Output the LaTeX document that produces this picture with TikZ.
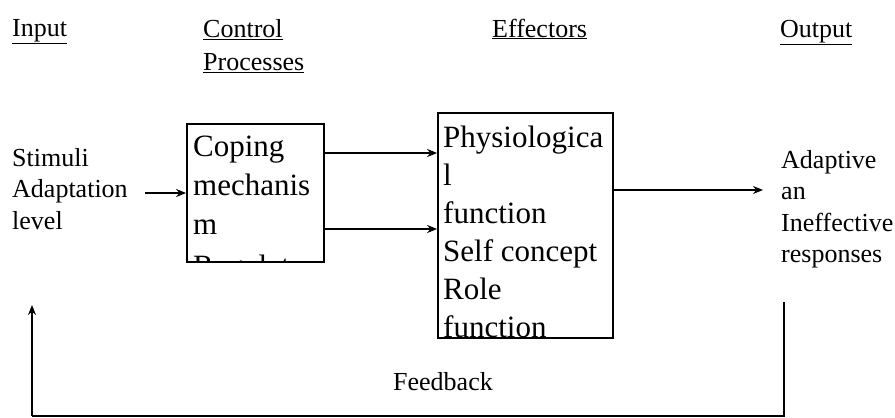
\documentclass[tikz,border=0pt]{standalone}
\usepackage{fontspec}
\setmainfont{Liberation Serif}
\usetikzlibrary{arrows.meta}
\begin{document}
\begin{tikzpicture}[x=1pt,y=-1pt,
  outer/.style={font=\fontsize{26}{31.5}\selectfont, inner sep=0pt, align=left},
  head/.style={font=\fontsize{26}{33}\selectfont, inner sep=0pt, align=left},
  boxtext/.style={font=\fontsize{31}{38}\selectfont, inner sep=0pt, align=left, anchor=north west},
  blk/.style={draw, line width=1.8pt, inner sep=0pt},
  arr/.style={line width=1.6pt, -{Stealth[length=10pt,width=8pt]}},
  fb/.style={line width=1.4pt}]
\useasboundingbox (0,0) rectangle (895,418);
% headers
\node[head, anchor=base west] (hin) at (12,36) {\underline{Input}};
\node[head, anchor=north west] (hctl) at (203,19.2) {\underline{Control}\\\underline{Processes}};
\node[head, anchor=base west] (heff) at (492,37) {\underline{Effectors}};
\node[head, anchor=base west] (hout) at (780,37) {\underline{Output}};
% side texts
\node[outer, anchor=north west] (stim) at (12,148) {Stimuli\\Adaptation\\level};
\node[outer, anchor=north west] (outp) at (781,150) {Adaptive\\an\\Ineffective\\responses};
\node[outer, anchor=base west] (fbt) at (393,390) {Feedback};
% boxes
\node[blk, minimum width=137pt, minimum height=138pt] (cop) at (255.5,193) {};
\node[blk, minimum width=175pt, minimum height=225pt] (phy) at (525.5,225.5) {};
\begin{scope}
  \clip ([shift={(0.9,-0.9)}]cop.south west) rectangle ([shift={(-0.9,0.9)}]cop.north east);
  \node[boxtext, font=\fontsize{31}{39}\selectfont] (coptxt) at (193,135.8) {Coping\\mechanis\\m\\[3pt]Regulator};
\end{scope}
\begin{scope}
  \clip (phy.south west) rectangle (phy.north east);
  \node[boxtext] (phytxt) at (443,125.8) {Physiologica\\l\\function\\Self concept\\Role\\function};
\end{scope}
% connectors
\coordinate (s1) at (145,193);
\draw[arr] (s1) -- (cop.west);
\coordinate (c1) at (0,153);
\coordinate (c2) at (0,229);
\draw[arr] (cop.east |- c1) -- (phy.west |- c1);
\draw[arr] (cop.east |- c2) -- (phy.west |- c2);
\coordinate (o1) at (763,190);
\draw[arr] (phy.east |- o1) -- (o1);
% feedback loop
\coordinate (fr) at (784,302);
\coordinate (fbl) at (32,416);
\coordinate (fl) at (32,305);
\draw[fb] (fr) -- (fr |- fbl) -- (fbl);
\draw[fb, -{Stealth[length=10pt,width=8pt]}] (fbl) -- (fl);
\end{tikzpicture}
\end{document}
